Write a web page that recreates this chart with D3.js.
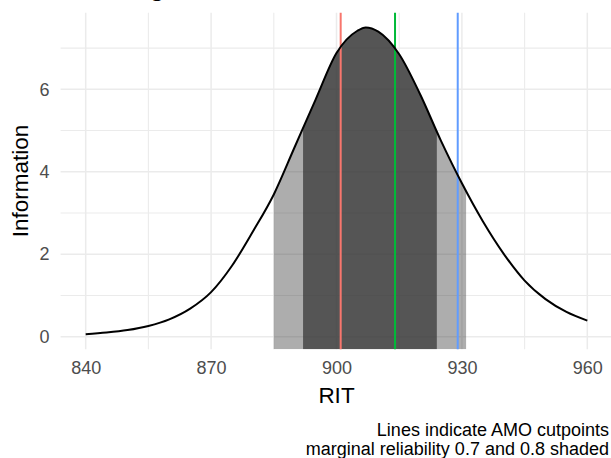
<!DOCTYPE html>
<html>
<head>
<meta charset="utf-8">
<script src="https://cdn.jsdelivr.net/npm/d3@7"></script>
<style>
  html, body { margin: 0; padding: 0; background: #fff; }
  svg { display: block; font-family: "Liberation Sans", Arial, Helvetica, sans-serif; }
</style>
</head>
<body>
<svg id="chart" width="611" height="458"></svg>
<script>
// Test information curve on the RIT scale
const rit  = [840, 845, 850, 855, 860, 865, 870, 875, 880, 885, 890, 895, 900, 905, 907, 910, 915, 920, 925, 930, 935, 940, 945, 950, 955, 960];
const info = [0.06, 0.10, 0.16, 0.26, 0.42, 0.68, 1.08, 1.72, 2.55, 3.45, 4.60, 5.75, 6.88, 7.42, 7.50, 7.40, 6.85, 5.88, 4.75, 3.72, 2.80, 2.01, 1.36, 0.91, 0.60, 0.39];

// AMO cutpoints
const cutpoints = [901, 914, 929];
const cutColors = ["#F8766D", "#00BA38", "#619CFF"];

// RIT ranges where marginal reliability reaches 0.7 and 0.8
const rel70 = [885, 931];
const rel80 = [892, 924];

const xTicks = [840, 870, 900, 930, 960];
const xMinor = [855, 885, 915, 945];
const yTicks = [0, 2, 4, 6];
const yMinor = [1, 3, 5, 7];

const titleText = "Reading";
const xTitle = "RIT";
const yTitle = "Information";
const captionLines = ["Lines indicate AMO cutpoints", "marginal reliability 0.7 and 0.8 shaded"];

const points = rit.map((r, i) => ({ x: r, y: info[i] }));

const svg = d3.select("#chart");

const x = d3.scaleLinear().domain([834, 966]).range([60.6, 612.4]);
const y = d3.scaleLinear().domain([-0.306, 7.858]).range([349.3, 12.7]);
const [px0, px1] = x.range();
const [py1, py0] = y.range();

// grid
const grid = svg.append("g");
grid.selectAll(".vminor").data(xMinor).join("line")
  .attr("x1", d => x(d)).attr("x2", d => x(d)).attr("y1", py0).attr("y2", py1)
  .attr("stroke", "#EBEBEB").attr("stroke-width", 1.1);
grid.selectAll(".hminor").data(yMinor).join("line")
  .attr("y1", d => y(d)).attr("y2", d => y(d)).attr("x1", px0).attr("x2", px1)
  .attr("stroke", "#EBEBEB").attr("stroke-width", 1.1);
grid.selectAll(".vmajor").data(xTicks).join("line")
  .attr("x1", d => x(d)).attr("x2", d => x(d)).attr("y1", py0).attr("y2", py1)
  .attr("stroke", "#EBEBEB").attr("stroke-width", 1.5);
grid.selectAll(".hmajor").data(yTicks).join("line")
  .attr("y1", d => y(d)).attr("y2", d => y(d)).attr("x1", px0).attr("x2", px1)
  .attr("stroke", "#EBEBEB").attr("stroke-width", 1.5);

// shaded areas under the curve, clipped to each reliability range
const defs = svg.append("defs");
[["clip70", rel70], ["clip80", rel80]].forEach(([id, r]) => {
  defs.append("clipPath").attr("id", id)
    .append("rect")
    .attr("x", x(r[0])).attr("width", x(r[1]) - x(r[0]))
    .attr("y", py0).attr("height", py1 - py0);
});

const area = d3.area()
  .x(d => x(d.x))
  .y0(py1)
  .y1(d => y(d.y))
  .curve(d3.curveMonotoneX);

svg.append("path").datum(points)
  .attr("d", area)
  .attr("clip-path", "url(#clip70)")
  .attr("fill", "#333333").attr("fill-opacity", 0.4);
svg.append("path").datum(points)
  .attr("d", area)
  .attr("clip-path", "url(#clip80)")
  .attr("fill", "#333333").attr("fill-opacity", 0.72);

// cutpoint lines
svg.selectAll(".cut").data(cutpoints).join("line")
  .attr("x1", d => x(d)).attr("x2", d => x(d))
  .attr("y1", py0).attr("y2", py1)
  .attr("stroke", (d, i) => cutColors[i]).attr("stroke-width", 2);

// information curve
const line = d3.line().x(d => x(d.x)).y(d => y(d.y)).curve(d3.curveMonotoneX);
svg.append("path").datum(points)
  .attr("d", line)
  .attr("fill", "none").attr("stroke", "#000").attr("stroke-width", 2);

// axes (labels only)
const xAxis = svg.append("g").attr("transform", `translate(0,${py1 + 4})`)
  .call(d3.axisBottom(x).tickValues(xTicks).tickSize(0).tickPadding(8));
const yAxis = svg.append("g").attr("transform", `translate(${px0 - 4},0)`)
  .call(d3.axisLeft(y).tickValues(yTicks).tickSize(0).tickPadding(7));
[xAxis, yAxis].forEach(a => {
  a.select(".domain").remove();
  a.selectAll("text").attr("fill", "#4D4D4D").attr("font-size", 18)
    .attr("font-family", "Liberation Sans, Arial, sans-serif");
});

// titles
svg.append("text").attr("x", (px0 + px1) / 2).attr("y", 403)
  .attr("text-anchor", "middle").attr("font-size", 22.5).attr("fill", "#000")
  .text(xTitle);
svg.append("text").attr("transform", `translate(28.3,${(py0 + py1) / 2}) rotate(-90)`)
  .attr("text-anchor", "middle").attr("font-size", 22.5).attr("fill", "#000")
  .text(yTitle);
svg.append("text").attr("x", px0).attr("y", -5)
  .attr("font-size", 28).attr("fill", "#000")
  .text(titleText);

// caption
svg.append("text").attr("text-anchor", "end").attr("font-size", 18).attr("fill", "#000")
  .selectAll("tspan").data(captionLines).join("tspan")
  .attr("x", 609).attr("y", (d, i) => 436 + i * 19)
  .text(d => d);
</script>
</body>
</html>
